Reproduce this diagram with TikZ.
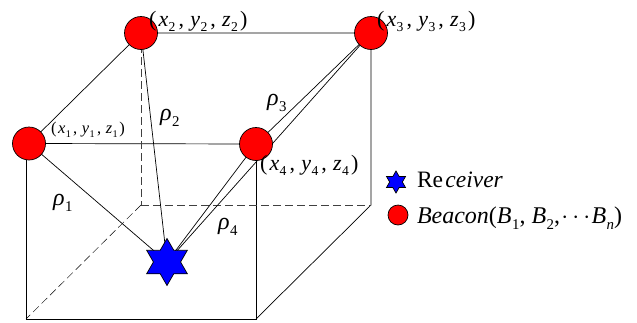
\documentclass[tikz,border=0pt]{standalone}
\usepackage{fontspec}
\setmainfont{Liberation Serif}
\usetikzlibrary{shapes.geometric,backgrounds}
\newcommand{\fsz}{19}
\newcommand{\vsub}[2]{\textit{#1}\kern0.02em\raisebox{-0.26em}{\fontsize{\dimexpr0.62\dimexpr\fsz pt\relax\relax}{1}\selectfont #2}}
\newcommand{\triple}[1]{(\kern0.1em\vsub{x}{#1}\kern0.14em,\kern0.28em\vsub{y}{#1}\kern0.14em,\kern0.28em\vsub{z}{#1}\kern0.1em)}
\tikzset{
  x=1pt,y=-1pt,
  beacon/.style={circle,draw=black,fill=red,line width=0.7pt,inner sep=0pt,minimum size=#1},
  beacon/.default=33pt,
  receiver/.style={star,star points=6,star point ratio=1.732,draw=black,fill=blue,line width=0.7pt,inner sep=0pt,minimum size=#1},
  edge/.style={draw=black,line width=0.7pt},
  hid/.style={draw=black!75,line width=0.7pt,dash pattern=on 8pt off 4pt},
  thinhid/.style={draw=black,line width=0.45pt,dash pattern=on 8pt off 4pt},
  lab/.style={anchor=base west,inner sep=0pt,outer sep=0pt,text=black},
}
\begin{document}
\begin{tikzpicture}
\useasboundingbox (0,0) rectangle (637,322);
\node[beacon] (b1) at (29,143.5) {};
\node[beacon] (b2) at (141,33) {};
\node[beacon] (b3) at (371,33) {};
\node[beacon] (b4) at (256,144) {};
\node[receiver=47pt] (rx) at (167,262) {};
\coordinate (fl) at (26,319);
\coordinate (fr) at (256,319);
\coordinate (fl0) at (26,144);
\coordinate (bl) at (141,205);
\coordinate (br) at (371,205);
\begin{scope}[on background layer]
  \draw[edge] (b1.center) -- (b2.center) -- (b3.center) -- (b4.center) -- (b1.center);
  \draw[edge] (fl0) -- (fl) -- (fr) -- (b4.center);
  \draw[edge] (b3.center) -- (br) -- (fr);
  \draw[hid] (b2.center) -- (bl);
  \draw[hid] (bl) -- (br);
  \draw[thinhid] (bl) -- (fl);
  \draw[edge] (b1.center) -- (rx.center);
  \draw[edge] (b2.center) -- (rx.center);
  \draw[edge] (b3.center) -- (rx.center);
  \draw[edge] (b4.center) -- (rx.center);
\end{scope}
\renewcommand{\fsz}{22}
\node[lab,font=\fontsize{22}{22}\selectfont] (t2) at (149,26) {\triple{2}};
\node[lab,font=\fontsize{22}{22}\selectfont] (t3) at (377,26) {\triple{3}};
\node[lab,font=\fontsize{22}{22}\selectfont] (t4) at (260,170) {\triple{4}};
\renewcommand{\fsz}{16.5}
\node[lab,font=\fontsize{16.5}{16.5}\selectfont] (t1) at (51,133) {\triple{1}};
\renewcommand{\fsz}{24}
\node[lab,font=\fontsize{24}{24}\selectfont] (r1) at (53,205) {\vsub{ρ}{1}};
\node[lab,font=\fontsize{24}{24}\selectfont] (r2) at (160,120) {\vsub{ρ}{2}};
\node[lab,font=\fontsize{24}{24}\selectfont] (r3) at (267,105) {\vsub{ρ}{3}};
\node[lab,font=\fontsize{24}{24}\selectfont] (r4) at (218,229) {\vsub{ρ}{4}};
\node[receiver=22pt] (ks) at (396,182) {};
\node[beacon=20pt] (kb) at (398,215) {};
\node[lab,font=\fontsize{23.5}{24}\selectfont] (kt1) at (417,187) {Re\kern0.1em\textit{ceiver}};
\node[lab,font=\fontsize{24}{24}\selectfont] (kt2) at (417,223) {\textit{Beacon}(\vsub{B}{1},\kern0.25em\vsub{B}{2},\kern0.05em$\cdots$\kern0.05em\vsub{B}{\textit{n}})};
\end{tikzpicture}
\end{document}
